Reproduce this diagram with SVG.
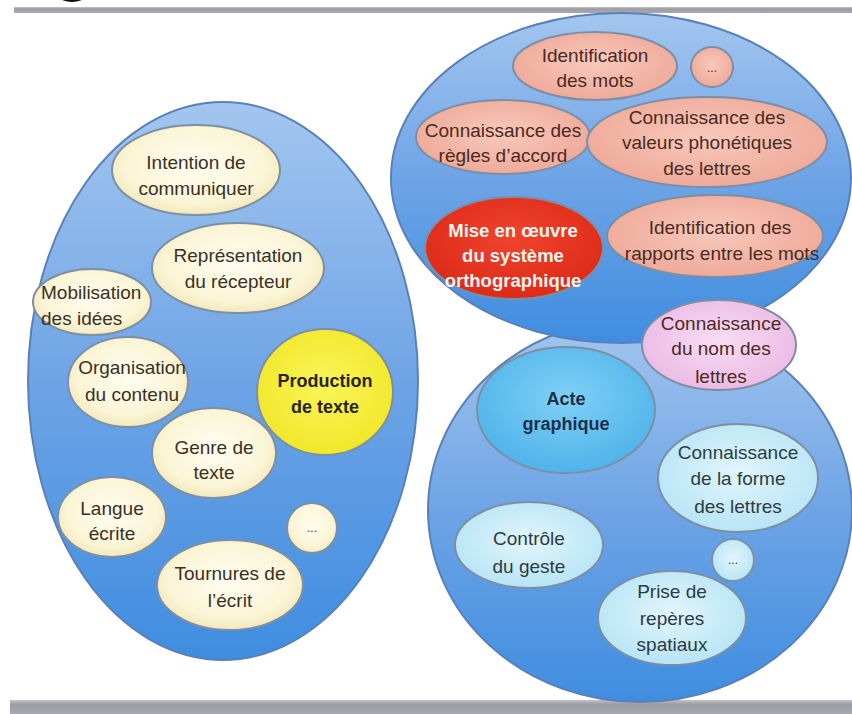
<svg xmlns="http://www.w3.org/2000/svg" width="852" height="714" viewBox="0 0 852 714">
<defs>
<linearGradient id="gBig" x1="0" y1="0" x2="0" y2="1">
<stop offset="0" stop-color="#a3c6ef"/>
<stop offset="0.5" stop-color="#6ea4e6"/>
<stop offset="1" stop-color="#3f8de0"/>
</linearGradient>
<radialGradient id="gCream" cx="0.5" cy="0.45" r="0.6">
<stop offset="0" stop-color="#fffdf0"/>
<stop offset="0.7" stop-color="#fbf5d6"/>
<stop offset="1" stop-color="#efe3b2"/>
</radialGradient>
<radialGradient id="gPink" cx="0.5" cy="0.45" r="0.6">
<stop offset="0" stop-color="#f8c9bc"/>
<stop offset="1" stop-color="#eea796"/>
</radialGradient>
<radialGradient id="gLav" cx="0.5" cy="0.45" r="0.6">
<stop offset="0" stop-color="#f8dcf4"/>
<stop offset="1" stop-color="#eab8e4"/>
</radialGradient>
<radialGradient id="gCyan" cx="0.5" cy="0.45" r="0.6">
<stop offset="0" stop-color="#e2f6fc"/>
<stop offset="1" stop-color="#b4e3f5"/>
</radialGradient>
<radialGradient id="gActe" cx="0.5" cy="0.4" r="0.6">
<stop offset="0" stop-color="#7fd0f6"/>
<stop offset="1" stop-color="#4fb3ea"/>
</radialGradient>
<radialGradient id="gRed" cx="0.5" cy="0.4" r="0.6">
<stop offset="0" stop-color="#f0432c"/>
<stop offset="1" stop-color="#dc2a18"/>
</radialGradient>
<radialGradient id="gYellow" cx="0.5" cy="0.45" r="0.6">
<stop offset="0" stop-color="#faf55a"/>
<stop offset="1" stop-color="#f0e626"/>
</radialGradient>
<linearGradient id="gBar" x1="0" y1="0" x2="0" y2="1">
<stop offset="0" stop-color="#c4c4ca"/>
<stop offset="0.3" stop-color="#9c9ca4"/>
<stop offset="1" stop-color="#a8a8b0"/>
</linearGradient>
</defs>
<style>
.big{fill:url(#gBig);stroke:#5a80b8;stroke-width:2}
.n{stroke:#7d8fa3;stroke-width:2}
.cream{fill:url(#gCream)}
.pink{fill:url(#gPink)}
.lav{fill:url(#gLav)}
.cyan{fill:url(#gCyan)}
text{font-family:"Liberation Sans",Arial,sans-serif;font-size:19px;text-anchor:middle}
.tc{fill:#3b3024}
.tp{fill:#4a2a22}
.tb{fill:#2c3c44}
.bold{font-weight:bold}
.dots{font-size:12px}
.red{fill:#fff6f0;font-size:18.5px;font-weight:bold}
</style>
<rect x="0" y="0" width="852" height="714" fill="#ffffff"/>
<path d="M62,0 Q72,4 82,0 Z" fill="#111"/>
<rect x="14" y="7" width="838" height="6" fill="url(#gBar)"/>
<rect x="10" y="700" width="842" height="14" fill="url(#gBar)"/>

<g id="cluster-production">
<ellipse class="big" cx="223" cy="381" rx="195" ry="279"/>
</g>
<g id="cluster-acte">
<ellipse class="big" cx="640" cy="510" rx="212" ry="192"/>
</g>
<g id="cluster-orthographe">
<ellipse class="big" cx="621" cy="178" rx="230" ry="165"/>
</g>

<g id="connectors"></g>

<g id="intention">
<ellipse class="n cream" cx="196" cy="170" rx="84" ry="45"/>
<text class="tc" x="196" y="169">Intention de</text>
<text class="tc" x="196" y="195">communiquer</text>
</g>
<g id="representation">
<ellipse class="n cream" cx="238" cy="268" rx="86" ry="45"/>
<text class="tc" x="238" y="262">Représentation</text>
<text class="tc" x="238" y="288">du récepteur</text>
</g>
<g id="mobilisation">
<ellipse class="n cream" cx="92" cy="302" rx="59" ry="33"/>
<text class="tc" x="41" y="299" style="text-anchor:start">Mobilisation</text>
<text class="tc" x="41" y="325" style="text-anchor:start">des idées</text>
</g>
<g id="organisation">
<ellipse class="n cream" cx="128" cy="382" rx="60" ry="45"/>
<text class="tc" x="132" y="374">Organisation</text>
<text class="tc" x="132" y="401">du contenu</text>
</g>
<g id="production">
<ellipse class="n" fill="url(#gYellow)" cx="325" cy="392" rx="68" ry="63"/>
<text class="tc bold" x="325" y="387" style="font-size:18px;fill:#2a2418">Production</text>
<text class="tc bold" x="325" y="413" style="font-size:18px;fill:#2a2418">de texte</text>
</g>
<g id="genre">
<ellipse class="n cream" cx="214" cy="453" rx="62" ry="45"/>
<text class="tc" x="214" y="454">Genre de</text>
<text class="tc" x="214" y="479">texte</text>
</g>
<g id="langue">
<ellipse class="n cream" cx="112" cy="517" rx="54" ry="40"/>
<text class="tc" x="112" y="515">Langue</text>
<text class="tc" x="112" y="540">écrite</text>
</g>
<g id="etc-left">
<ellipse class="n cream" cx="312" cy="528" rx="25" ry="25"/>
<text class="tc dots" x="312" y="532">...</text>
</g>
<g id="tournures">
<ellipse class="n cream" cx="230" cy="585" rx="73" ry="45"/>
<text class="tc" x="230" y="580">Tournures de</text>
<text class="tc" x="230" y="607">l’écrit</text>
</g>

<g id="identification-mots">
<ellipse class="n pink" cx="595" cy="66" rx="82" ry="34"/>
<text class="tp" x="595" y="62">Identification</text>
<text class="tp" x="595" y="87">des mots</text>
</g>
<g id="etc-top">
<ellipse class="n pink" cx="712" cy="67" rx="21" ry="20"/>
<text class="tp dots" x="712" y="72">...</text>
</g>
<g id="regles-accord">
<ellipse class="n pink" cx="503" cy="137" rx="87" ry="37"/>
<text class="tp" x="503" y="137">Connaissance des</text>
<text class="tp" x="503" y="162">règles d’accord</text>
</g>
<g id="valeurs-phonetiques">
<ellipse class="n pink" cx="707" cy="142" rx="120" ry="45"/>
<text class="tp" x="707" y="124">Connaissance des</text>
<text class="tp" x="707" y="149">valeurs phonétiques</text>
<text class="tp" x="707" y="175">des lettres</text>
</g>
<g id="mise-en-oeuvre">
<ellipse class="n" fill="url(#gRed)" cx="514" cy="248" rx="89" ry="51"/>
<text class="red" x="513" y="237">Mise en œuvre</text>
<text class="red" x="513" y="262">du système</text>
<text class="red" x="513" y="287">orthographique</text>
</g>
<g id="rapports-mots">
<ellipse class="n pink" cx="715" cy="236" rx="108" ry="41"/>
<text class="tp" x="720" y="234">Identification des</text>
<text class="tp" x="722" y="260">rapports entre les mots</text>
</g>
<g id="nom-lettres">
<ellipse class="n lav" cx="719" cy="345" rx="77" ry="45"/>
<text class="tp" x="721" y="330">Connaissance</text>
<text class="tp" x="721" y="355">du nom des</text>
<text class="tp" x="721" y="383">lettres</text>
</g>

<g id="acte-graphique">
<ellipse class="n" fill="url(#gActe)" cx="566" cy="410" rx="89" ry="63"/>
<text class="bold" x="566" y="405" style="fill:#1f2f48;font-size:18px">Acte</text>
<text class="bold" x="566" y="430" style="fill:#1f2f48;font-size:18px">graphique</text>
</g>
<g id="forme-lettres">
<ellipse class="n cyan" cx="738" cy="478" rx="80" ry="54"/>
<text class="tb" x="738" y="459">Connaissance</text>
<text class="tb" x="738" y="485">de la forme</text>
<text class="tb" x="738" y="513">des lettres</text>
</g>
<g id="controle-geste">
<ellipse class="n cyan" cx="529" cy="545" rx="74" ry="43"/>
<text class="tb" x="529" y="545">Contrôle</text>
<text class="tb" x="529" y="573">du geste</text>
</g>
<g id="etc-bottom">
<ellipse class="n cyan" cx="733" cy="560" rx="21" ry="21"/>
<text class="tb dots" x="733" y="564">...</text>
</g>
<g id="reperes">
<ellipse class="n cyan" cx="672" cy="618" rx="74" ry="47"/>
<text class="tb" x="672" y="598">Prise de</text>
<text class="tb" x="672" y="625">repères</text>
<text class="tb" x="672" y="651">spatiaux</text>
</g>
</svg>
